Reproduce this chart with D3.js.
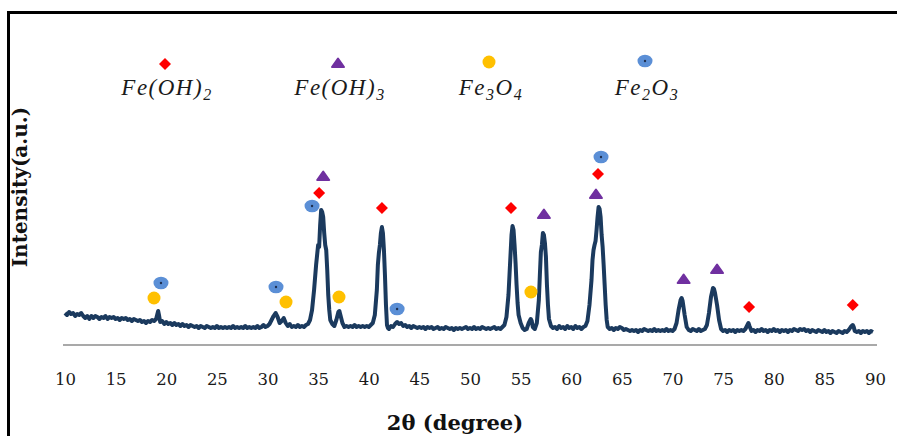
<!DOCTYPE html>
<meta charset="utf-8">
<script src="https://d3js.org/d3.v7.min.js"></script>
<style>
  body { margin: 0; background: #fff; }
</style>
<div id="chart"></div>
<script>

// XRD pattern: [2theta (deg), intensity (a.u.)]
const pattern = [
  [10.0,32],[10.2,30],[10.4,33],[10.6,31],[10.8,32],[11.0,29],[11.2,31],[11.4,30],[11.6,32],[11.8,29],
  [12.0,27],[12.2,29],[12.4,26],[12.6,29],[12.8,27],[13.0,29],[13.2,28],[13.4,26],[13.6,28],[13.8,27],
  [14.0,29],[14.2,26],[14.4,28],[14.6,27],[14.8,28],[15.0,26],[15.2,27],[15.4,25],[15.6,27],[15.8,26],
  [16.0,27],[16.2,25],[16.4,26],[16.6,24],[16.8,26],[17.0,25],[17.2,24],[17.4,25],[17.6,23],[17.8,24],
  [18.0,22],[18.2,24],[18.4,23],[18.6,25],[18.8,24],[19.0,26],[19.1,30],[19.2,34],[19.3,29],[19.4,23],
  [19.6,24],[19.8,21],[20.0,23],[20.2,21],[20.4,22],[20.6,20],[20.8,22],[21.0,20],[21.2,21],[21.4,19],
  [21.6,21],[21.8,19],[22.0,20],[22.2,18],[22.4,20],[22.6,19],[22.8,18],[23.0,19],[23.2,17],[23.4,19],
  [23.6,18],[23.8,17],[24.0,19],[24.2,18],[24.4,17],[24.6,18],[24.8,17],[25.0,19],[25.2,17],[25.4,18],
  [25.6,17],[25.8,18],[26.0,17],[26.2,18],[26.4,17],[26.6,19],[26.8,17],[27.0,18],[27.2,17],[27.4,18],
  [27.6,17],[27.8,19],[28.0,17],[28.2,18],[28.4,17],[28.6,18],[28.8,17],[29.0,19],[29.2,17],[29.4,18],
  [29.6,20],[29.8,18],[30.0,19],[30.2,21],[30.4,25],[30.6,29],[30.8,32],[31.0,28],[31.2,22],[31.4,24],
  [31.6,27],[31.8,22],[32.0,19],[32.2,21],[32.4,18],[32.6,19],[32.8,18],[33.0,20],[33.2,18],[33.4,19],
  [33.6,18],[33.8,20],[34.0,21],[34.2,25],[34.4,35],[34.6,55],[34.8,80],[35.0,100],[35.1,98],[35.2,120],
  [35.3,135],[35.4,133],[35.5,128],[35.6,112],[35.7,100],[35.8,95],[35.9,75],[36.0,50],[36.1,35],[36.2,25],
  [36.4,21],[36.6,19],[36.8,25],[37.0,33],[37.1,34],[37.2,30],[37.4,22],[37.6,18],[37.8,19],[38.0,18],
  [38.2,19],[38.4,18],[38.6,20],[38.8,18],[39.0,19],[39.2,18],[39.4,19],[39.6,18],[39.8,19],[40.0,18],
  [40.2,20],[40.4,22],[40.6,30],[40.8,55],[40.9,80],[41.0,92],[41.1,100],[41.2,112],[41.3,118],[41.4,112],
  [41.5,95],[41.6,70],[41.7,40],[41.8,20],[41.9,17],[42.0,16],[42.2,19],[42.4,18],[42.6,21],[42.8,23],
  [43.0,21],[43.2,22],[43.4,19],[43.6,20],[43.8,18],[44.0,19],[44.2,17],[44.4,19],[44.6,18],[44.8,17],
  [45.0,18],[45.2,17],[45.4,18],[45.6,16],[45.8,18],[46.0,17],[46.2,18],[46.4,16],[46.6,17],[46.8,18],
  [47.0,16],[47.2,17],[47.4,16],[47.6,18],[47.8,17],[48.0,16],[48.2,17],[48.4,15],[48.6,17],[48.8,16],
  [49.0,17],[49.2,16],[49.4,17],[49.6,18],[49.8,16],[50.0,17],[50.2,16],[50.4,18],[50.6,16],[50.8,17],
  [51.0,16],[51.2,18],[51.4,17],[51.6,16],[51.8,17],[52.0,16],[52.2,17],[52.4,18],[52.6,16],[52.8,17],
  [53.0,16],[53.2,18],[53.4,20],[53.6,28],[53.8,50],[53.9,70],[54.0,90],[54.1,110],[54.2,119],[54.3,115],
  [54.4,100],[54.5,82],[54.6,60],[54.7,42],[54.8,30],[55.0,22],[55.2,17],[55.4,15],[55.6,16],[55.8,22],
  [56.0,26],[56.1,24],[56.2,18],[56.4,16],[56.6,22],[56.8,45],[56.9,70],[57.0,93],[57.1,100],[57.2,112],
  [57.3,110],[57.4,102],[57.5,88],[57.6,60],[57.7,40],[57.8,26],[58.0,19],[58.2,17],[58.4,18],[58.6,16],
  [58.8,19],[59.0,17],[59.2,18],[59.4,16],[59.6,19],[59.8,17],[60.0,18],[60.2,16],[60.4,19],[60.6,17],
  [60.8,18],[61.0,16],[61.2,18],[61.4,19],[61.6,24],[61.8,40],[62.0,65],[62.1,85],[62.2,95],[62.3,100],
  [62.4,104],[62.5,115],[62.6,128],[62.7,138],[62.8,136],[62.9,128],[63.0,110],[63.1,98],[63.2,80],[63.3,60],
  [63.4,40],[63.5,25],[63.6,18],[63.8,16],[64.0,17],[64.2,15],[64.4,17],[64.6,16],[64.8,18],[65.0,17],
  [65.2,15],[65.4,16],[65.6,15],[65.8,14],[66.0,15],[66.2,14],[66.4,15],[66.6,13],[66.8,15],[67.0,14],
  [67.2,16],[67.4,15],[67.6,14],[67.8,15],[68.0,14],[68.2,16],[68.4,14],[68.6,15],[68.8,14],[69.0,15],
  [69.2,14],[69.4,16],[69.6,14],[69.8,15],[70.0,14],[70.2,16],[70.4,22],[70.6,35],[70.8,45],[70.9,47],
  [71.0,44],[71.2,30],[71.4,18],[71.6,15],[71.8,14],[72.0,16],[72.2,15],[72.4,14],[72.6,16],[72.8,14],
  [73.0,15],[73.2,16],[73.4,20],[73.6,32],[73.8,48],[74.0,57],[74.1,56],[74.2,52],[74.4,40],[74.6,25],
  [74.8,16],[75.0,14],[75.2,15],[75.4,13],[75.6,15],[75.8,14],[76.0,15],[76.2,13],[76.4,15],[76.6,14],
  [76.8,15],[77.0,14],[77.2,16],[77.4,20],[77.5,22],[77.6,19],[77.8,14],[78.0,15],[78.2,13],[78.4,15],
  [78.6,14],[78.8,16],[79.0,14],[79.2,15],[79.4,13],[79.6,15],[79.8,14],[80.0,16],[80.2,14],[80.4,15],
  [80.6,13],[80.8,15],[81.0,14],[81.2,15],[81.4,13],[81.6,15],[81.8,14],[82.0,16],[82.2,15],[82.4,14],
  [82.6,16],[82.8,15],[83.0,16],[83.2,14],[83.4,15],[83.6,13],[83.8,15],[84.0,14],[84.2,13],[84.4,15],
  [84.6,14],[84.8,13],[85.0,15],[85.2,13],[85.4,14],[85.6,12],[85.8,14],[86.0,13],[86.2,12],[86.4,14],
  [86.6,13],[86.8,12],[87.0,14],[87.2,13],[87.4,15],[87.6,18],[87.8,20],[87.9,18],[88.0,14],[88.2,13],
  [88.4,14],[88.6,12],[88.8,14],[89.0,13],[89.2,14],[89.4,12],[89.6,14],[89.8,13]
];

// peak assignments: [2theta, height of the marker]
const feOH2 = [[35.1,152],[41.3,137],[54.05,137],[62.64,171],[77.56,38],[87.8,40]];
const feOH3 = [[35.5,169],[57.3,131],[62.44,151],[71.1,66],[74.4,76]];
const fe3O4 = [[18.79,47],[31.83,43],[37.06,48],[56.02,53]];
const fe2O3 = [[19.48,62],[30.84,58],[34.4,139],[42.8,36],[62.94,188]];

const xTicks = [10,15,20,25,30,35,40,45,50,55,60,65,70,75,80,85,90];

const W = 897, H = 436;

const svg = d3.select("#chart").append("svg")
  .attr("width", W)
  .attr("height", H)
  .style("display", "block");

svg.append("rect").attr("width", W).attr("height", H).attr("fill", "#fff");

// outer frame (right and bottom edges fall outside the picture)
svg.append("rect")
  .attr("x", 8.5).attr("y", 12.5)
  .attr("width", 900).attr("height", 440)
  .attr("fill", "none")
  .attr("stroke", "#000")
  .attr("stroke-width", 3);

const x = d3.scaleLinear().domain([10, 90]).range([65, 875]);
const y = d3.scaleLinear().domain([0, 300]).range([345, 45]);

// x axis
const xAxis = svg.append("g")
  .attr("transform", "translate(0,345)")
  .call(d3.axisBottom(x).tickValues(xTicks).tickSize(0).tickPadding(28).tickSizeOuter(0));
xAxis.select(".domain")
  .attr("stroke", "#8c8c8c")
  .attr("stroke-width", 1.3)
  .attr("d", `M${x(10) - 2},0H${x(90) + 2}`);
xAxis.selectAll("text")
  .attr("font-family", "DejaVu Serif")
  .attr("font-size", 16.5)
  .attr("fill", "#1a1a1a");

svg.append("text")
  .attr("x", 455).attr("y", 430)
  .attr("text-anchor", "middle")
  .attr("font-family", "DejaVu Serif")
  .attr("font-weight", "bold")
  .attr("font-size", 21)
  .attr("fill", "#111")
  .text("2θ (degree)");

svg.append("text")
  .attr("transform", "translate(27,187) rotate(-90)")
  .attr("text-anchor", "middle")
  .attr("font-family", "DejaVu Serif")
  .attr("font-weight", "bold")
  .attr("font-size", 20)
  .attr("fill", "#111")
  .text("Intensity(a.u.)");

// the pattern
const line = d3.line().x(d => x(d[0])).y(d => y(d[1]));
svg.append("path")
  .datum(pattern)
  .attr("d", line)
  .attr("fill", "none")
  .attr("stroke", "#1b3a5e")
  .attr("stroke-width", 4)
  .attr("stroke-linejoin", "round");

// marker shapes
function drawMarker(g, shape) {
  if (shape === "diamond") {
    g.append("path").attr("d", "M0,-6L6,0L0,6L-6,0Z").attr("fill", "#ff0000");
  } else if (shape === "triangle") {
    g.append("path").attr("d", "M0,-4.5L6,4L-6,4Z")
      .attr("fill", "#7030a0").attr("stroke", "#7030a0")
      .attr("stroke-width", 2).attr("stroke-linejoin", "round");
  } else if (shape === "gold") {
    g.append("circle").attr("r", 6.5).attr("fill", "#ffc000");
  } else {
    g.append("ellipse").attr("rx", 7.5).attr("ry", 6.3).attr("fill", "#5b8fd6");
    g.append("circle").attr("r", 1.2).attr("fill", "#1f3050");
  }
}

const phases = [
  {shape: "diamond",  data: feOH2, lx: 165, ly: 64, parts: [["Fe(OH)", 0], ["2", 1]]},
  {shape: "triangle", data: feOH3, lx: 338, ly: 63, parts: [["Fe(OH)", 0], ["3", 1]]},
  {shape: "gold",     data: fe3O4, lx: 489, ly: 62, parts: [["Fe", 0], ["3", 1], ["O", 0], ["4", 1]]},
  {shape: "blue",     data: fe2O3, lx: 645, ly: 61, parts: [["Fe", 0], ["2", 1], ["O", 0], ["3", 1]]}
];

phases.forEach(p => {
  p.data.forEach(d => {
    const g = svg.append("g").attr("transform", `translate(${x(d[0])},${y(d[1])})`);
    drawMarker(g, p.shape);
  });

  // legend
  const lg = svg.append("g").attr("transform", `translate(${p.lx},${p.ly})`);
  drawMarker(lg, p.shape);
  const t = svg.append("text")
    .attr("x", p.lx + 2).attr("y", 95)
    .attr("text-anchor", "middle")
    .attr("font-family", "Liberation Serif")
    .attr("font-style", "italic")
    .attr("font-size", 23)
    .attr("letter-spacing", 1.5)
    .attr("fill", "#1a1a1a");
  let sub = false;
  p.parts.forEach(part => {
    const s = t.append("tspan").text(part[0]);
    if (part[1]) { s.attr("dy", sub ? 0 : 5).attr("font-size", 16); sub = true; }
    else if (sub) { s.attr("dy", -5); sub = false; }
  });
});

</script>
